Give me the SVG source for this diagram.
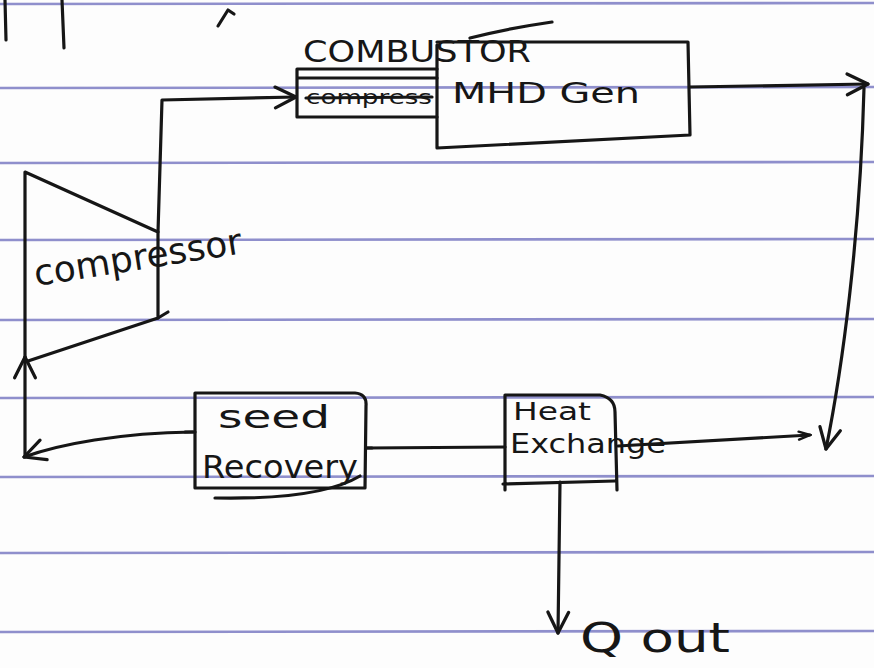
<svg xmlns="http://www.w3.org/2000/svg" width="874" height="668" viewBox="0 0 874 668">
<defs>
<style>
.ink{fill:none;stroke:#161616;stroke-width:3.2;stroke-linecap:round;stroke-linejoin:round}
.rule{stroke:#7c7cc4;stroke-width:2.6;opacity:0.85}
.hw{font-family:"DejaVu Sans","Noto Sans",sans-serif;fill:#161616}
</style>
<marker id="v" viewBox="0 0 20 20" refX="18" refY="10" markerWidth="26" markerHeight="26" markerUnits="userSpaceOnUse" orient="auto">
<path d="M2,2 L18,10 L2,18" fill="none" stroke="#161616" stroke-width="2.5" stroke-linecap="round" stroke-linejoin="round"/>
</marker>
<marker id="vs" viewBox="0 0 20 20" refX="18" refY="10" markerWidth="16" markerHeight="16" markerUnits="userSpaceOnUse" orient="auto">
<path d="M4,5 L18,10 L4,15" fill="none" stroke="#161616" stroke-width="3" stroke-linecap="round"/>
</marker>
</defs>
<rect width="874" height="668" fill="#fdfdfd"/>
<g id="paper">
<line class="rule" x1="0" y1="4" x2="874" y2="3"/>
<line class="rule" x1="0" y1="88" x2="874" y2="87"/>
<line class="rule" x1="0" y1="163" x2="874" y2="162"/>
<line class="rule" x1="0" y1="240" x2="874" y2="239"/>
<line class="rule" x1="0" y1="320" x2="874" y2="319"/>
<line class="rule" x1="0" y1="398" x2="874" y2="397"/>
<line class="rule" x1="0" y1="477" x2="874" y2="476"/>
<line class="rule" x1="0" y1="553" x2="874" y2="552"/>
<line class="rule" x1="0" y1="632" x2="874" y2="631"/>
</g>
<g id="fragments" class="ink">
<path d="M5,0 L6,40"/>
<path d="M62,0 L64,48"/>
<path d="M218,26 L228,10 L234,14"/>
</g>
<g id="connectors" class="ink">
<path d="M158,232 L162,100 L296,97" marker-end="url(#v)"/>
<path d="M690,87 L868,84" marker-end="url(#v)"/>
<path d="M864,88 C860,240 842,370 826,449" marker-end="url(#v)"/>
<path d="M618,446 L810,435" marker-end="url(#vs)"/>
<path d="M367,448 L505,447"/>
<path d="M193,432 C120,433 60,444 24,457" marker-end="url(#v)"/>
<path d="M25,457 L25,357" marker-end="url(#v)"/>
<path d="M560,482 L558,633" marker-end="url(#v)"/>
</g>
<g id="compressor">
<path class="ink" d="M25,172 L158,232 L158,318 L25,362 Z"/>
<path class="ink" d="M158,318 L168,312"/>
<text class="hw" x="36" y="286" font-size="36" textLength="210" lengthAdjust="spacingAndGlyphs" transform="rotate(-9 36 286)">compressor</text>
</g>
<g id="combustor">
<path class="ink" d="M297,69 L437,69 M297,78 L437,78 M297,69 L297,117 L437,117"/>
<text class="hw" x="303" y="62" font-size="30" textLength="228" lengthAdjust="spacingAndGlyphs">COMBUSTOR</text>
<path class="ink" d="M470,38 Q510,28 552,22"/>
<text class="hw" x="306" y="104" font-size="20" textLength="126" lengthAdjust="spacingAndGlyphs">compress</text>
<path class="ink" d="M306,98 L432,97" stroke-width="5"/>
</g>
<g id="mhd">
<path class="ink" d="M437,45 L437,148 L690,135 L688,42 L437,42"/>
<text class="hw" x="452" y="103" font-size="28" textLength="188" lengthAdjust="spacingAndGlyphs">MHD Gen</text>
</g>
<g id="seed">
<path class="ink" d="M195,393 L355,393 Q367,394 366,406 L365,488 L195,488 Z"/>
<path class="ink" d="M185,432 L195,432 M367,448 L372,448"/>
<path class="ink" d="M215,498 Q320,500 360,476"/>
<text class="hw" x="218" y="428" font-size="32" textLength="112" lengthAdjust="spacingAndGlyphs">seed</text>
<text class="hw" x="202" y="478" font-size="32" textLength="156" lengthAdjust="spacingAndGlyphs">Recovery</text>
</g>
<g id="heatex">
<path class="ink" d="M505,490 L505,395 L600,395 Q615,398 615,412 L617,490 M503,484 L615,481"/>
<text class="hw" x="513" y="420" font-size="24" textLength="78" lengthAdjust="spacingAndGlyphs">Heat</text>
<text class="hw" x="510" y="453" font-size="26" textLength="156" lengthAdjust="spacingAndGlyphs">Exchange</text>
</g>
<g id="qout">
<text class="hw" x="580" y="652" font-size="40" textLength="150" lengthAdjust="spacingAndGlyphs">Q out</text>
</g>
</svg>
